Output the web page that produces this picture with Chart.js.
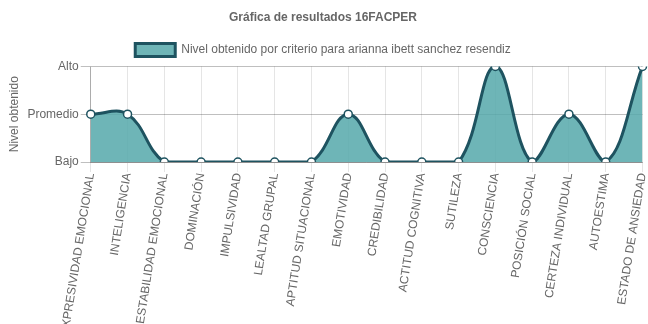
<!DOCTYPE html>
<html>
<head>
<meta charset="utf-8">
<script src="https://cdn.jsdelivr.net/npm/chart.js@4/dist/chart.umd.min.js"></script>
<style>
  html, body { margin: 0; padding: 0; background: #fff; }
  #wrap { width: 648px; height: 324px; }
</style>
</head>
<body>
<div id="wrap"><canvas id="chart"></canvas></div>
<script>
const criterios = ['EXPRESIVIDAD EMOCIONAL', 'INTELIGENCIA', 'ESTABILIDAD EMOCIONAL', 'DOMINACIÓN', 'IMPULSIVIDAD',
  'LEALTAD GRUPAL', 'APTITUD SITUACIONAL', 'EMOTIVIDAD', 'CREDIBILIDAD', 'ACTITUD COGNITIVA', 'SUTILEZA',
  'CONSCIENCIA', 'POSICIÓN SOCIAL', 'CERTEZA INDIVIDUAL', 'AUTOESTIMA', 'ESTADO DE ANSIEDAD'];
const niveles = [1, 1, 0, 0, 0, 0, 0, 1, 0, 0, 0, 2, 0, 1, 0, 2];
const nivelLabels = ['Bajo', 'Promedio', 'Alto'];

Chart.defaults.font.family = "'Liberation Sans', Arial, sans-serif";
Chart.defaults.font.size = 12;
Chart.defaults.color = '#666';

new Chart(document.getElementById('chart'), {
  type: 'line',
  data: {
    labels: criterios,
    datasets: [{
      label: 'Nivel obtenido por criterio para arianna ibett sanchez resendiz',
      data: niveles,
      fill: true,
      tension: 0.4,
      backgroundColor: 'rgba(85,168,170,0.85)',
      borderColor: '#1e5360',
      borderWidth: 3,
      pointBackgroundColor: '#fff',
      pointBorderColor: '#1e5360',
      pointBorderWidth: 1.5,
      pointRadius: 4
    }]
  },
  options: {
    responsive: true,
    maintainAspectRatio: false,
    animation: false,
    layout: { padding: { left: 3, right: 5, top: 0 } },
    plugins: {
      title: {
        display: true,
        text: 'Gráfica de resultados 16FACPER',
        font: { size: 12, weight: 'bold' },
        padding: { top: 10, bottom: 11 }
      },
      legend: {
        labels: { boxWidth: 40, boxHeight: 13, padding: 8, font: { size: 12 } }
      },
      tooltip: { enabled: false }
    },
    scales: {
      x: {
        grid: { color: 'rgba(0,0,0,0.1)', tickLength: 10 },
        border: { color: 'rgba(0,0,0,0.25)' },
        ticks: { autoSkip: false, minRotation: 81, maxRotation: 81, padding: 0 },
        afterFit: (scale) => { scale.height = 162; scale.paddingRight = 0; }
      },
      y: {
        min: 0,
        max: 2,
        title: { display: true, text: 'Nivel obtenido' },
        grid: { color: 'rgba(0,0,0,0.25)', tickLength: 10 },
        border: { color: 'rgba(0,0,0,0.25)' },
        ticks: { stepSize: 1, callback: (v) => nivelLabels[v], padding: 2 }
      }
    }
  }
});
</script>
</body>
</html>
